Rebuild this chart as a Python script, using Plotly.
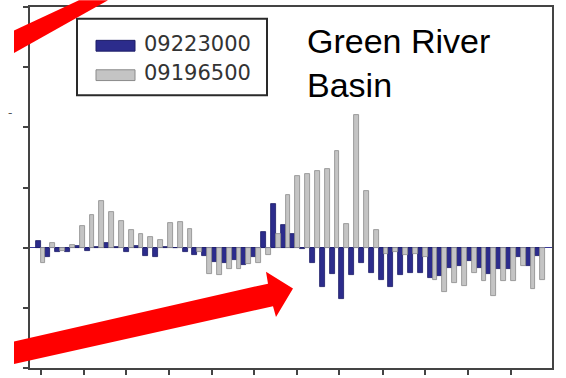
import plotly.graph_objects as go

# ---- data ----
idx = list(range(52))
s09223000 = [0.11, -0.15, -0.07, -0.08, 0.02, -0.05, 0.01, 0.07, 0.01, -0.07,
             0.02, -0.14, -0.16, 0.01, 0.0, -0.08, -0.13, -0.14, -0.23, -0.25,
             -0.20, -0.28, -0.15, 0.26, 0.73, 0.37, 0.22, -0.02, -0.25, -0.66,
             -0.43, -0.85, -0.45, -0.26, -0.42, -0.53, -0.66, -0.45, -0.42, -0.42,
             -0.50, -0.47, -0.33, -0.30, -0.22, -0.34, -0.43, -0.36, -0.36, -0.16,
             -0.30, -0.14]
s09196500 = [-0.26, 0.08, -0.05, 0.04, 0.36, 0.54, 0.78, 0.60, 0.44, 0.29,
             0.22, 0.18, 0.13, 0.41, 0.42, 0.31, -0.08, -0.44, -0.46, -0.36,
             -0.35, -0.27, -0.26, -0.13, 0.23, 0.87, 1.19, 1.22, 1.27, 1.30,
             1.61, 0.40, 2.21, 0.95, 0.30, -0.10, -0.08, -0.12, -0.10, -0.15,
             -0.54, -0.74, -0.58, -0.64, -0.42, -0.55, -0.80, -0.56, -0.55, -0.30,
             -0.68, -0.53]
names = ["09223000", "09196500"]
xtick_pos = [0, 4.4, 8.7, 13.1, 17.5, 21.8, 26.2, 30.5, 34.9, 39.2, 43.6, 48.0]
ytick_pos = [-2, -1, 0, 1, 2, 3, 4]
title_text = "Green River<br>Basin"

# ---- layout geometry (pixels) ----
FW, FH = 566, 378
L, R, T, B = 30, 552, 5, 373
W, H = R - L, B - T


def fx(px):
    return (px - L) / W


def fy(py):
    return 1 - (py - T) / H


def poly(pts):
    return "M " + " L ".join(f"{fx(a):.5f},{fy(b):.5f}" for a, b in pts) + " Z"


BLUE = "#2c2c8c"
GRAY = "#c4c4c4"

fig = go.Figure()
fig.add_trace(go.Bar(x=idx, y=s09223000, name=names[0], marker=dict(
    color=BLUE, line=dict(color="#1c1c66", width=0.8)), showlegend=False))
fig.add_trace(go.Bar(x=idx, y=s09196500, name=names[1], marker=dict(
    color=GRAY, line=dict(color="#8a8a8a", width=0.8)), showlegend=False))

shapes = []
# manual legend
shapes.append(dict(type="rect", xref="paper", yref="paper",
                   x0=fx(77), x1=fx(267), y0=fy(95), y1=fy(17),
                   line=dict(color="#2a2a2a", width=2), fillcolor="white", layer="above"))
shapes.append(dict(type="rect", xref="paper", yref="paper",
                   x0=fx(96), x1=fx(135), y0=fy(50), y1=fy(39),
                   line=dict(color="#1c1c66", width=1), fillcolor=BLUE, layer="above"))
shapes.append(dict(type="rect", xref="paper", yref="paper",
                   x0=fx(96), x1=fx(135), y0=fy(80), y1=fy(69),
                   line=dict(color="#8a8a8a", width=1), fillcolor=GRAY, layer="above"))
# red arrows
shapes.append(dict(type="path", xref="paper", yref="paper",
                   path=poly([(14, 29), (79, -2), (108, -2), (14, 52)]),
                   fillcolor="#ff0000", line=dict(width=0), layer="above"))
shapes.append(dict(type="path", xref="paper", yref="paper",
                   path=poly([(14, 346), (268, 287), (266, 275), (293, 292),
                              (276, 321), (273, 310), (14, 369)]),
                   fillcolor="#ff0000", line=dict(width=0), layer="above"))

annotations = [
    dict(xref="paper", yref="paper", x=fx(142), y=fy(43), text=names[0],
         xanchor="left", yanchor="middle", showarrow=False,
         font=dict(family="DejaVu Sans", size=21, color="#333333")),
    dict(xref="paper", yref="paper", x=fx(142), y=fy(72), text=names[1],
         xanchor="left", yanchor="middle", showarrow=False,
         font=dict(family="DejaVu Sans", size=21, color="#333333")),
    dict(xref="paper", yref="paper", x=fx(305), y=fy(18), text=title_text,
         xanchor="left", yanchor="top", align="left", showarrow=False,
         font=dict(family="Liberation Sans, Arial", size=34, color="black")),
    dict(xref="paper", yref="paper", x=fx(10), y=fy(113), text="-",
         xanchor="center", yanchor="middle", showarrow=False,
         font=dict(family="DejaVu Sans", size=12, color="#555555")),
]

fig.update_layout(
    width=FW, height=FH,
    margin=dict(l=L, r=FW - R, t=T, b=FH - B, pad=0),
    paper_bgcolor="white", plot_bgcolor="white",
    barmode="group", bargap=0.0, bargroupgap=0,
    shapes=shapes, annotations=annotations,
    showlegend=False,
)
fig.update_xaxes(range=[(L - 40.5) / 9.8, (R - 40.5) / 9.8], showgrid=False,
                 zeroline=False, showline=True, mirror=True, linecolor="#444444",
                 linewidth=2, ticks="outside", ticklen=5, tickwidth=1.5,
                 tickcolor="#444444", tickvals=xtick_pos, showticklabels=False)
fig.update_yaxes(range=[-2, 4], showgrid=False, zeroline=True,
                 zerolinecolor="#3a3a9a", zerolinewidth=1, showline=True,
                 mirror=True, linecolor="#444444", linewidth=2, ticks="outside",
                 ticklen=5, tickwidth=1.5, tickcolor="#444444",
                 tickvals=ytick_pos, showticklabels=False)

fig.write_html("out.html")
